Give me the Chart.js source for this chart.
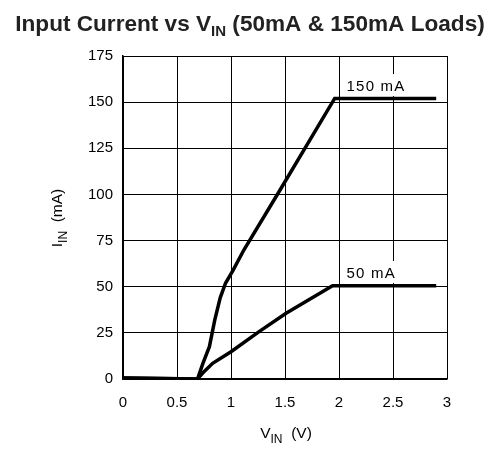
<!DOCTYPE html>
<html>
<head>
<meta charset="utf-8">
<script src="https://cdn.jsdelivr.net/npm/chart.js@4/dist/chart.umd.min.js"></script>
<style>
  html, body { margin: 0; padding: 0; background: #fff; }
  #wrap { width: 490px; height: 456px; }
</style>
</head>
<body>
<div id="wrap"><canvas id="chart"></canvas></div>
<script>
// Values
const vin150 = [0, 0.69, 0.74, 0.80, 0.85, 0.90, 0.95, 1.02, 1.12, 1.45, 1.96, 2.9];
const iin150 = [0.5, 0, 8.5, 17.5, 32, 44, 52, 59, 70, 102, 152, 152];
const vin50 = [0, 0.69, 0.75, 0.83, 1.0, 1.26, 1.51, 1.94, 2.9];
const iin50 = [0.5, 0, 4, 8.5, 14.8, 25.7, 35.6, 50.5, 50.5];
const xTicks = [0, 0.5, 1, 1.5, 2, 2.5, 3];
const yTicks = [0, 25, 50, 75, 100, 125, 150, 175];
const loadLabels = [
  { text: '150 mA', x: 2.07, y: 156 },
  { text: '50 mA', x: 2.07, y: 54.7 }
];

const toPoints = (xs, ys) => xs.map((x, i) => ({ x: x, y: ys[i] }));

// draws a main string followed by a subscript and an optional tail
function subText(ctx, parts, x, y, font, subFont, align, drop) {
  ctx.font = font;
  const w0 = ctx.measureText(parts[0]).width;
  ctx.font = subFont;
  const w1 = ctx.measureText(parts[1]).width;
  ctx.font = font;
  const w2 = parts[2] ? ctx.measureText(parts[2]).width : 0;
  const total = w0 + w1 + w2;
  let sx = align === 'center' ? x - total / 2 : x;
  ctx.textAlign = 'left';
  ctx.textBaseline = 'alphabetic';
  ctx.fillText(parts[0], sx, y);
  ctx.font = subFont;
  ctx.fillText(parts[1], sx + w0, y + drop);
  if (parts[2]) {
    ctx.font = font;
    ctx.fillText(parts[2], sx + w0 + w1, y);
  }
}

const textPlugin = {
  id: 'texts',
  afterDraw(chart) {
    const ctx = chart.ctx;
    const xs = chart.scales.x, ys = chart.scales.y;
    ctx.save();
    // title
    ctx.fillStyle = '#222';
    subText(ctx, ['Input Current vs V', 'IN', ' (50mA & 150mA Loads)'], 250, 31,
      'bold 22.6px "Liberation Sans", Arial, sans-serif', 'bold 15px "Liberation Sans", Arial, sans-serif', 'center', 5);
    ctx.fillStyle = '#000';
    // x axis title
    subText(ctx, ['V', 'IN', '  (V)'], 286, 438,
      '15.5px "Liberation Sans", Arial, sans-serif', '12px "Liberation Sans", Arial, sans-serif', 'center', 5);
    // y axis title (rotated)
    ctx.translate(62, 218);
    ctx.rotate(-Math.PI / 2);
    subText(ctx, ['I', 'IN', '  (mA)'], 0, 0,
      '15.5px "Liberation Sans", Arial, sans-serif', '12px "Liberation Sans", Arial, sans-serif', 'center', 5);
    ctx.restore();

    // curve labels with white backing
    ctx.save();
    ctx.font = '15px "Liberation Sans", Arial, sans-serif';
    ctx.letterSpacing = '1.2px';
    ctx.textAlign = 'left';
    ctx.textBaseline = 'alphabetic';
    loadLabels.forEach(l => {
      const px = xs.getPixelForValue(l.x);
      const py = ys.getPixelForValue(l.y);
      const w = ctx.measureText(l.text).width;
      ctx.fillStyle = '#fff';
      ctx.fillRect(px - 2, py - 17, w + 4, 22);
      ctx.fillStyle = '#000';
      ctx.fillText(l.text, px, py);
    });
    ctx.restore();
  }
};

new Chart(document.getElementById('chart'), {
  type: 'scatter',
  data: {
    datasets: [
      {
        label: '150 mA',
        data: toPoints(vin150, iin150),
        showLine: true,
        borderColor: '#000',
        borderWidth: 3.5,
        pointRadius: 0,
        tension: 0
      },
      {
        label: '50 mA',
        data: toPoints(vin50, iin50),
        showLine: true,
        borderColor: '#000',
        borderWidth: 3.5,
        pointRadius: 0,
        tension: 0
      }
    ]
  },
  options: {
    responsive: true,
    maintainAspectRatio: false,
    animation: false,
    layout: { padding: { left: 0, right: 43, top: 56, bottom: 0 } },
    plugins: {
      legend: { display: false },
      title: { display: false },
      tooltip: { enabled: false }
    },
    scales: {
      x: {
        type: 'linear',
        min: 0,
        max: 3,
        afterFit: s => { s.height = 77; },
        afterBuildTicks: s => { s.ticks = xTicks.map(v => ({ value: v })); },
        grid: { color: '#000', lineWidth: 1, drawTicks: false },
        border: { color: '#000', width: 1.5 },
        ticks: {
          padding: 15,
          color: '#000',
          font: { family: '"Liberation Sans", Arial, sans-serif', size: 15 },
          callback: v => String(v)
        }
      },
      y: {
        type: 'linear',
        min: 0,
        max: 175,
        afterFit: s => { s.width = 123; },
        afterBuildTicks: s => { s.ticks = yTicks.map(v => ({ value: v })); },
        grid: { color: '#000', lineWidth: 1, drawTicks: false },
        border: { color: '#000', width: 1.5 },
        ticks: {
          padding: 10,
          color: '#000',
          font: { family: '"Liberation Sans", Arial, sans-serif', size: 15 },
          callback: v => String(v)
        }
      }
    }
  },
  plugins: [textPlugin]
});
</script>
</body>
</html>
